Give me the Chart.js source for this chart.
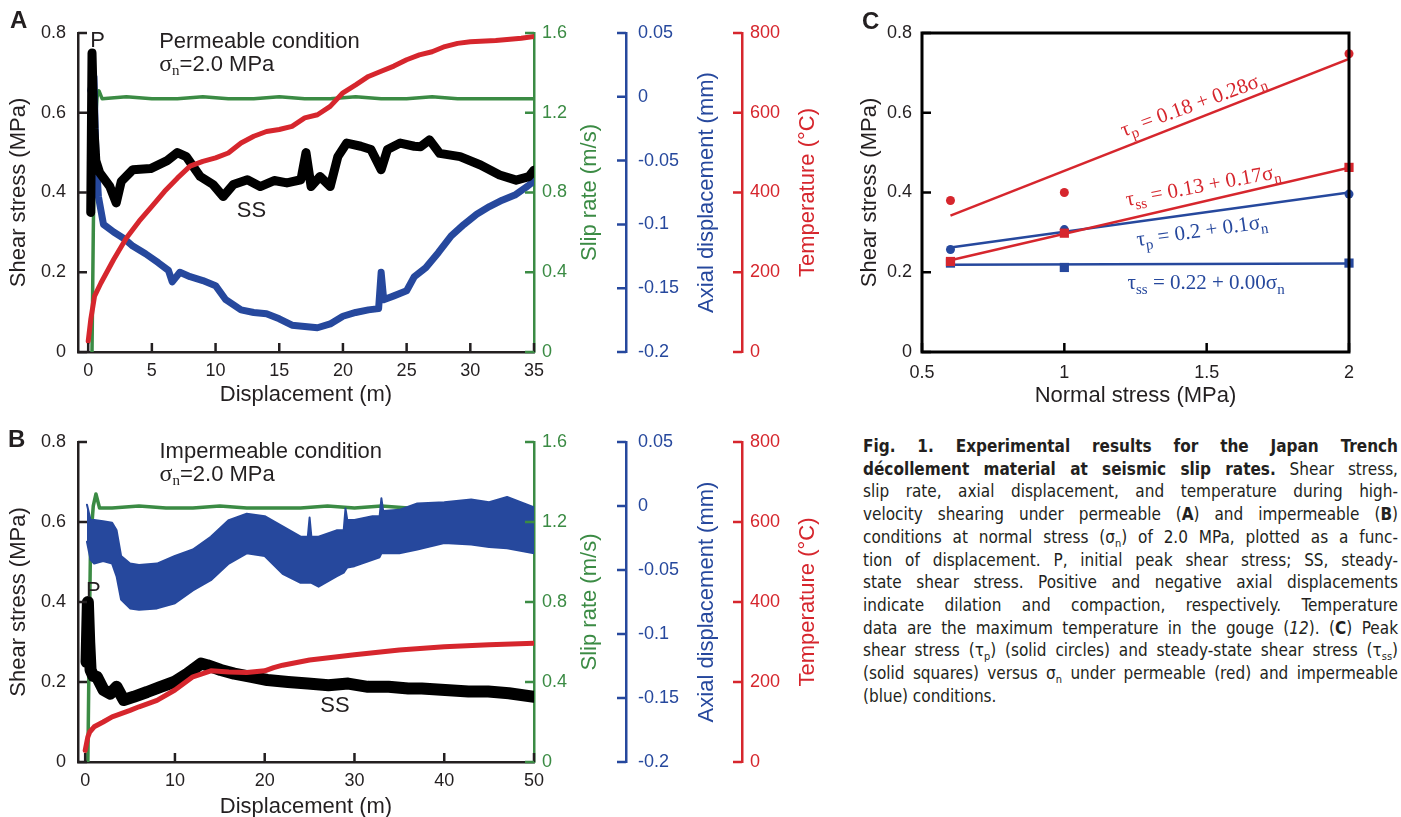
<!doctype html>
<html lang="en">
<head>
<meta charset="utf-8">
<title>Fig. 1 - Japan Trench decollement</title>
<script src="https://cdn.jsdelivr.net/npm/chart.js@4.4.0/dist/chart.umd.min.js"></script>
<style>
  body { margin: 0; background: #fff; width: 1401px; height: 817px; position: relative; overflow: hidden; font-family: "Liberation Sans", Arial, sans-serif; }
  canvas { position: absolute; }
  #chartA { left: 0; top: 0; }
  #chartB { left: 0; top: 410px; }
  #chartC { left: 840px; top: 0; }
  .panel { position: absolute; font: bold 24px "Liberation Sans", Arial, sans-serif; color: #231f20; line-height: 24px; }
  #cap { position: absolute; left: 863px; top: 435px; width: 535px; color: #231f20;
         font-family: "Liberation Sans Narrow", "DejaVu Sans Condensed", "Liberation Sans", sans-serif;
         font-stretch: condensed; font-size: 17px; line-height: 22.7px; }
  #cap .l { text-align: justify; text-align-last: justify; }
  #cap .e { text-align: left; }
  #cap sub { font-size: 11px; line-height: 0; }
</style>
</head>
<body>

<canvas id="chartA" width="840" height="410"></canvas>
<canvas id="chartB" width="840" height="407"></canvas>
<canvas id="chartC" width="561" height="410"></canvas>

<div class="panel" style="left:10px;top:8px">A</div>
<div class="panel" style="left:8px;top:427px">B</div>
<div class="panel" style="left:862px;top:9px">C</div>

<div id="cap">
  <div class="l"><b>Fig. 1. Experimental results for the Japan Trench</b></div>
  <div class="l"><b>décollement material at seismic slip rates.</b> Shear stress,</div>
  <div class="l">slip rate, axial displacement, and temperature during high-</div>
  <div class="l">velocity shearing under permeable (<b>A</b>) and impermeable (<b>B</b>)</div>
  <div class="l">conditions at normal stress (σ<sub>n</sub>) of 2.0 MPa, plotted as a func-</div>
  <div class="l">tion of displacement. P, initial peak shear stress; SS, steady-</div>
  <div class="l">state shear stress. Positive and negative axial displacements</div>
  <div class="l">indicate dilation and compaction, respectively. Temperature</div>
  <div class="l">data are the maximum temperature in the gouge (<i>12</i>). (<b>C</b>) Peak</div>
  <div class="l">shear stress (τ<sub>p</sub>) (solid circles) and steady-state shear stress (τ<sub>ss</sub>)</div>
  <div class="l">(solid squares) versus σ<sub>n</sub> under permeable (red) and impermeable</div>
  <div class="e">(blue) conditions.</div>
</div>

<script>
// ---- panel A: permeable condition, sigma_n = 2.0 MPa (x = displacement, m) ----
const aShearX = [0.2, 0.3, 0.45, 0.6, 0.9, 1.7, 2.2, 2.6, 3.5, 4.9, 6.2, 7.0, 7.7, 8.8, 9.8, 10.6, 11.4, 12.5, 13.5, 14.6, 15.6, 16.7, 17.1, 17.5, 18.2, 19.0, 19.6, 20.3, 21.4, 22.2, 23.0, 23.5, 24.5, 25.6, 26.1, 26.8, 27.6, 29.2, 30.8, 32.3, 33.6, 34.6, 35];
const aShearY = [0.35, 0.75, 0.56, 0.48, 0.45, 0.415, 0.374, 0.428, 0.457, 0.46, 0.48, 0.50, 0.49, 0.44, 0.42, 0.39, 0.42, 0.432, 0.415, 0.43, 0.424, 0.432, 0.50, 0.415, 0.44, 0.415, 0.49, 0.524, 0.516, 0.508, 0.457, 0.508, 0.524, 0.516, 0.515, 0.532, 0.498, 0.49, 0.469, 0.444, 0.431, 0.44, 0.456];
const aSlipX = [0.3, 0.4, 0.5, 0.7, 0.85, 1.1, 3, 5, 7, 9, 11, 13, 15, 17, 19, 21, 23, 25, 27, 29, 31, 33, 35];
const aSlipY = [0, 0.6, 1.1, 1.28, 1.31, 1.27, 1.28, 1.27, 1.27, 1.28, 1.27, 1.27, 1.28, 1.27, 1.27, 1.28, 1.27, 1.27, 1.28, 1.27, 1.27, 1.27, 1.27];
const aAxialX = [0.2, 0.45, 0.6, 0.8, 1.2, 2, 2.8, 3.5, 4.5, 5.5, 6.3, 6.6, 7.2, 8, 9, 10, 10.8, 12, 13, 14, 15, 16, 17, 18, 19, 20, 21, 22, 22.8, 23, 23.2, 24, 25, 25.6, 26.5, 27.5, 28.5, 29.5, 30.5, 31.5, 32.5, 33.5, 34.5, 35];
const aAxialY = [0.005, 0.016, -0.044, -0.078, -0.100, -0.106, -0.111, -0.117, -0.123, -0.130, -0.136, -0.145, -0.1375, -0.141, -0.144, -0.148, -0.159, -0.167, -0.169, -0.170, -0.174, -0.179, -0.180, -0.181, -0.178, -0.172, -0.169, -0.167, -0.166, -0.1375, -0.159, -0.156, -0.152, -0.141, -0.134, -0.122, -0.109, -0.100, -0.092, -0.086, -0.081, -0.077, -0.070, -0.066];
const aTempX = [0, 0.2, 0.5, 1, 2, 3, 4, 5, 6, 7, 8, 9, 10, 11, 12, 13, 14, 15, 16, 17, 18, 19, 20, 21, 22, 23, 24, 25, 26, 27, 28, 29, 30, 32, 34, 35];
const aTempY = [27, 81, 140, 173, 232, 286, 328, 365, 403, 436, 466, 478, 487, 499, 524, 541, 553, 558, 566, 587, 595, 616, 650, 670, 691, 704, 717, 733, 745, 753, 766, 774, 778, 781, 787, 791];
const aXTicks = [0, 5, 10, 15, 20, 25, 30, 35];

// ---- panel B: impermeable condition, sigma_n = 2.0 MPa ----
const bShearX = [0.15, 0.3, 0.45, 0.6, 0.9, 1.3, 2.05, 2.8, 3.5, 4.3, 5.4, 6.9, 8.4, 9.9, 11.4, 12.9, 13.6, 15.1, 16.6, 18.5, 20.3, 22.6, 24.8, 27.1, 29.3, 31.5, 33.8, 36, 37.5, 40.1, 42.7, 44.9, 47.2, 50];
const bShearY = [0.25, 0.40, 0.30, 0.23, 0.215, 0.213, 0.18, 0.171, 0.188, 0.155, 0.163, 0.175, 0.188, 0.20, 0.221, 0.246, 0.242, 0.23, 0.221, 0.213, 0.205, 0.20, 0.196, 0.192, 0.196, 0.188, 0.188, 0.184, 0.184, 0.18, 0.176, 0.176, 0.172, 0.163];
const bSlipX = [0.3, 0.45, 0.6, 0.9, 1.2, 1.6, 3, 6, 9, 12, 15, 18, 21, 24, 27, 30, 33, 36, 39, 42, 45, 48, 50];
const bSlipY = [0, 0.6, 1.1, 1.28, 1.34, 1.27, 1.27, 1.28, 1.27, 1.27, 1.28, 1.27, 1.27, 1.27, 1.28, 1.27, 1.28, 1.27, 1.27, 1.28, 1.27, 1.27, 1.27];
const bAxialX = [0.2, 0.6, 1, 2, 3, 3.5, 4, 5, 6, 8, 10, 12, 14, 16, 18, 20, 22, 24, 24.8, 25, 25.2, 26, 28, 28.8, 29, 29.2, 30, 32, 32.8, 33, 33.2, 35, 37, 40, 43, 45, 47, 50];
const bAxialTop = [0.001, -0.011, -0.011, -0.012, -0.013, -0.019, -0.039, -0.045, -0.046, -0.045, -0.039, -0.034, -0.024, -0.011, -0.006, -0.008, -0.016, -0.024, -0.024, -0.009, -0.024, -0.024, -0.019, -0.019, -0.002, -0.011, -0.011, -0.008, -0.008, 0.006, -0.004, -0.003, 0.002, 0.003, 0.005, 0.003, 0.007, -0.001];
const bAxialBottom = [-0.028, -0.042, -0.045, -0.043, -0.045, -0.055, -0.073, -0.080, -0.081, -0.080, -0.076, -0.066, -0.058, -0.045, -0.037, -0.039, -0.053, -0.060, -0.060, -0.060, -0.060, -0.063, -0.055, -0.052, -0.050, -0.048, -0.047, -0.042, -0.040, -0.037, -0.037, -0.037, -0.034, -0.029, -0.030, -0.032, -0.033, -0.037];
const bTempX = [0, 0.3, 0.5, 1, 2, 3, 4, 5, 6, 8, 10, 12, 14, 16, 18, 20, 21, 22, 25, 30, 35, 40, 45, 50];
const bTempY = [29, 63, 75, 88, 100, 113, 121, 129, 138, 154, 180, 213, 228, 225, 224, 228, 236, 242, 255, 268, 280, 288, 293, 297];
const bXTicks = [0, 10, 20, 30, 40, 50];

// shared right-hand axes
const shearTicks = [0, 0.2, 0.4, 0.6, 0.8];
const slipTicks = [0, 0.4, 0.8, 1.2, 1.6];
const axialTicks = [-0.2, -0.15, -0.1, -0.05, 0, 0.05];
const tempTicks = [0, 200, 400, 600, 800];

// ---- panel C: shear stress vs normal stress ----
const normalStress = [0.6, 1, 2];
const permPeak = [0.38, 0.40, 0.748];
const permSteady = [0.227, 0.298, 0.463];
const impPeak = [0.257, 0.307, 0.396];
const impSteady = [0.223, 0.212, 0.223];
const fitX = [0.6, 2];
const permPeakFit = [0.342, 0.735];
const permSteadyFit = [0.23, 0.462];
const impPeakFit = [0.262, 0.40];
const impSteadyFit = [0.219, 0.222];
const cXTicks = [0.5, 1, 1.5, 2];

const INK = '#231f20', GREEN = '#3b8b44', BLUE = '#26489d', RED = '#d6262d';
const SANS = "'Liberation Sans', Arial, sans-serif";
const SERIF = "'Liberation Serif', 'Times New Roman', serif";

Chart.defaults.font.family = SANS;
Chart.defaults.color = INK;

function pts(xs, ys) { return xs.map((x, i) => ({ x: x, y: ys[i] })); }
function fixTicks(values) { return s => { s.ticks = values.map(v => ({ value: v })); }; }

function vAxis(pos, min, max, values, color, width, pad, weight) {
  return {
    type: 'linear', position: pos, min: min, max: max, weight: weight,
    afterBuildTicks: fixTicks(values),
    afterFit: s => { s.width = width; },
    grid: { display: false, drawTicks: false },
    border: { display: true, color: color, width: 2.5 },
    ticks: { color: color, padding: pad, autoSkip: false, font: { size: 18 }, callback: v => String(v) }
  };
}
function hAxis(min, max, values, height, pad, border) {
  return {
    type: 'linear', position: 'bottom', min: min, max: max,
    afterBuildTicks: fixTicks(values),
    afterFit: s => { s.height = height; },
    grid: { display: false, drawTicks: false },
    border: { display: border, color: INK, width: 2.5 },
    ticks: { color: INK, padding: pad, autoSkip: false, maxRotation: 0, font: { size: 18 }, callback: v => String(v) }
  };
}

// text made of pieces (for subscripts), anchored at a baseline point
function drawRich(ctx, x, y, parts, align, rot, lift) {
  ctx.save();
  ctx.translate(x, y);
  if (rot) ctx.rotate(rot * Math.PI / 180);
  let w = 0;
  parts.forEach(p => { ctx.font = p.f; w += ctx.measureText(p.t).width; });
  let cx = align === 'center' ? -w / 2 : 0;
  ctx.textAlign = 'left';
  ctx.textBaseline = 'alphabetic';
  parts.forEach(p => {
    ctx.font = p.f;
    ctx.fillStyle = p.c;
    ctx.fillText(p.t, cx, (p.dy || 0) + (lift || 0));
    cx += ctx.measureText(p.t).width;
  });
  ctx.restore();
}

// inward ticks, axis titles, in-plot labels, frame
function figInk(o) {
  return {
    id: 'figInk',
    afterDraw(chart) {
      const ctx = chart.ctx, ca = chart.chartArea;
      ctx.save();
      if (o.frame) {
        ctx.strokeStyle = o.frame.color;
        ctx.lineWidth = o.frame.width;
        ctx.strokeRect(ca.left, ca.top, ca.right - ca.left, ca.bottom - ca.top);
      }
      (o.ticks || []).forEach(a => {
        const s = chart.scales[a.id];
        ctx.strokeStyle = a.color;
        ctx.lineWidth = a.width || 2.5;
        ctx.beginPath();
        s.ticks.forEach(t => {
          const p = s.getPixelForValue(t.value);
          if (s.isHorizontal()) { ctx.moveTo(p, s.top); ctx.lineTo(p, s.top - a.len); }
          else if (s.position === 'left') { ctx.moveTo(s.right, p); ctx.lineTo(s.right + a.len, p); }
          else { ctx.moveTo(s.left, p); ctx.lineTo(s.left - a.len, p); }
        });
        ctx.stroke();
      });
      (o.titles || []).forEach(t => {
        const s = chart.scales[t.id];
        ctx.font = '22px ' + SANS;
        ctx.fillStyle = t.color;
        ctx.textAlign = 'center';
        ctx.textBaseline = 'middle';
        if (s.isHorizontal()) {
          ctx.fillText(t.text, (ca.left + ca.right) / 2, s.top + t.off);
        } else {
          ctx.save();
          ctx.translate(s.left + t.off, (ca.top + ca.bottom) / 2);
          ctx.rotate(-Math.PI / 2);
          ctx.fillText(t.text, 0, 0);
          ctx.restore();
        }
      });
      (o.notes || []).forEach(n => {
        const xs = chart.scales.x, ys = chart.scales.y;
        drawRich(ctx, xs.getPixelForValue(n.x), ys.getPixelForValue(n.y), n.parts, n.align, n.rot, n.lift);
      });
      ctx.restore();
    }
  };
}

const T22 = '22px ' + SANS;
function sigmaN(color) {
  return [
    { t: 'σ', f: '24px ' + SERIF, c: color },
    { t: 'n', f: '15px ' + SERIF, c: color, dy: 4 },
    { t: '=2.0 MPa', f: T22, c: color }
  ];
}

function lineSet(xs, ys, color, width, axis) {
  return {
    data: pts(xs, ys), yAxisID: axis, borderColor: color, backgroundColor: color,
    borderWidth: width, pointRadius: 0, tension: 0, fill: false,
    borderJoinStyle: 'round', borderCapStyle: 'round'
  };
}

function sideAxes(xMin, xMax, xTicks, xHeight) {
  return {
    x: hAxis(xMin, xMax, xTicks, xHeight, 8, true),
    y: vAxis('left', 0, 0.8, shearTicks, INK, 78, 12, 0),
    ySlip: vAxis('right', 0, 1.6, slipTicks, GREEN, 92, 8, 1),
    yAxial: vAxis('right', -0.2, 0.05, axialTicks, BLUE, 116, 12, 2),
    yTemp: vAxis('right', 0, 800, tempTicks, RED, 98, 8, 3)
  };
}
const sideTicks = [
  { id: 'x', color: INK, len: 9 },
  { id: 'y', color: INK, len: 9 },
  { id: 'ySlip', color: GREEN, len: 9 },
  { id: 'yAxial', color: BLUE, len: 9 },
  { id: 'yTemp', color: RED, len: 9 }
];
function sideTitles(xOff) {
  return [
    { id: 'x', text: 'Displacement (m)', color: INK, off: xOff },
    { id: 'y', text: 'Shear stress (MPa)', color: INK, off: 19 },
    { id: 'ySlip', text: 'Slip rate (m/s)', color: GREEN, off: 56 },
    { id: 'yAxial', text: 'Axial displacement (mm)', color: BLUE, off: 81 },
    { id: 'yTemp', text: 'Temperature (°C)', color: RED, off: 66 }
  ];
}
const quiet = { legend: { display: false }, tooltip: { enabled: false } };

// panel A
new Chart(document.getElementById('chartA'), {
  type: 'line',
  data: {
    datasets: [
      lineSet(aTempX, aTempY, RED, 5, 'yTemp'),
      lineSet(aShearX, aShearY, '#000', 9, 'y'),
      lineSet(aAxialX, aAxialY, BLUE, 7, 'yAxial'),
      lineSet(aSlipX, aSlipY, GREEN, 3.5, 'ySlip')
    ]
  },
  options: {
    responsive: false, animation: false, devicePixelRatio: 1,
    layout: { padding: { top: 33, left: 0, right: 0, bottom: 0 } },
    plugins: quiet,
    scales: sideAxes(-0.8, 35, aXTicks, 58)
  },
  plugins: [figInk({
    ticks: sideTicks,
    titles: sideTitles(43),
    notes: [
      { x: 0.16, y: 0.766, align: 'left', parts: [{ t: 'P', f: T22, c: INK }] },
      { x: 5.57, y: 0.762, align: 'left', parts: [{ t: 'Permeable condition', f: T22, c: INK }] },
      { x: 5.57, y: 0.705, align: 'left', parts: sigmaN(INK) },
      { x: 11.67, y: 0.338, align: 'left', parts: [{ t: 'SS', f: T22, c: INK }] }
    ]
  })]
});

// panel B
const bAxialUpper = lineSet(bAxialX, bAxialTop, BLUE, 2, 'yAxial');
bAxialUpper.fill = '+1';
const bAxialLower = lineSet(bAxialX, bAxialBottom, BLUE, 2, 'yAxial');
new Chart(document.getElementById('chartB'), {
  type: 'line',
  data: {
    datasets: [
      lineSet(bTempX, bTempY, RED, 5, 'yTemp'),
      lineSet(bShearX, bShearY, '#000', 12, 'y'),
      bAxialUpper,
      bAxialLower,
      lineSet(bSlipX, bSlipY, GREEN, 3.5, 'ySlip')
    ]
  },
  options: {
    responsive: false, animation: false, devicePixelRatio: 1,
    layout: { padding: { top: 32, left: 0, right: 0, bottom: 0 } },
    plugins: quiet,
    scales: sideAxes(-0.8, 50, bXTicks, 55)
  },
  plugins: [figInk({
    ticks: sideTicks,
    titles: sideTitles(45),
    notes: [
      { x: 0.08, y: 0.413, align: 'left', parts: [{ t: 'P', f: T22, c: INK }] },
      { x: 8.28, y: 0.761, align: 'left', parts: [{ t: 'Impermeable condition', f: T22, c: INK }] },
      { x: 8.28, y: 0.703, align: 'left', parts: sigmaN(INK) },
      { x: 26.2, y: 0.126, align: 'left', parts: [{ t: 'SS', f: T22, c: INK }] }
    ]
  })]
});

// panel C
const E = '21px ' + SERIF, S = '15px ' + SERIF;
function eq(sym, sub, body, color) {
  return [
    { t: sym, f: E, c: color },
    { t: sub, f: S, c: color, dy: 5 },
    { t: body, f: E, c: color },
    { t: 'n', f: S, c: color, dy: 5 }
  ];
}
function marks(ys, color, style, r) {
  return { data: pts(normalStress, ys), showLine: false, pointStyle: style, pointRadius: r,
           pointBackgroundColor: color, pointBorderColor: color, pointBorderWidth: 0, clip: false };
}
function fit(ys, color) {
  return { data: pts(fitX, ys), showLine: true, borderColor: color, borderWidth: 2.5, pointRadius: 0 };
}
new Chart(document.getElementById('chartC'), {
  type: 'scatter',
  data: {
    datasets: [
      marks(permPeak, RED, 'circle', 4.5),
      marks(permSteady, RED, 'rect', 6.5),
      marks(impPeak, BLUE, 'circle', 4.5),
      marks(impSteady, BLUE, 'rect', 6.5),
      fit(permPeakFit, RED),
      fit(permSteadyFit, RED),
      fit(impPeakFit, BLUE),
      fit(impSteadyFit, BLUE)
    ]
  },
  options: {
    responsive: false, animation: false, devicePixelRatio: 1,
    layout: { padding: { top: 33, left: 0, right: 52, bottom: 0 } },
    plugins: quiet,
    scales: {
      x: hAxis(0.5, 2, cXTicks, 58, 10, false),
      y: {
        type: 'linear', position: 'left', min: 0, max: 0.8,
        afterBuildTicks: fixTicks(shearTicks),
        afterFit: s => { s.width = 82; },
        grid: { display: false, drawTicks: false },
        border: { display: false },
        ticks: { color: INK, padding: 10, autoSkip: false, font: { size: 18 }, callback: v => String(v) }
      }
    }
  },
  plugins: [figInk({
    frame: { color: '#000', width: 3 },
    ticks: [{ id: 'x', color: '#000', len: 9 }, { id: 'y', color: '#000', len: 9 }],
    titles: [
      { id: 'x', text: 'Normal stress (MPa)', color: INK, off: 44 },
      { id: 'y', text: 'Shear stress (MPa)', color: INK, off: 30 }
    ],
    notes: [
      { x: 1.452, y: 0.622, align: 'center', rot: -20, lift: 7, parts: eq('τ', 'p', ' = 0.18 + 0.28σ', RED) },
      { x: 1.487, y: 0.419, align: 'center', rot: -10.5, lift: 7, parts: eq('τ', 'ss', ' = 0.13 + 0.17σ', RED) },
      { x: 1.483, y: 0.306, align: 'center', rot: -8, lift: 7, parts: eq('τ', 'p', ' = 0.2 + 0.1σ', BLUE) },
      { x: 1.498, y: 0.176, align: 'center', rot: 0, lift: 7, parts: eq('τ', 'ss', ' = 0.22 + 0.00σ', BLUE) }
    ]
  })]
});
</script>
</body>
</html>
